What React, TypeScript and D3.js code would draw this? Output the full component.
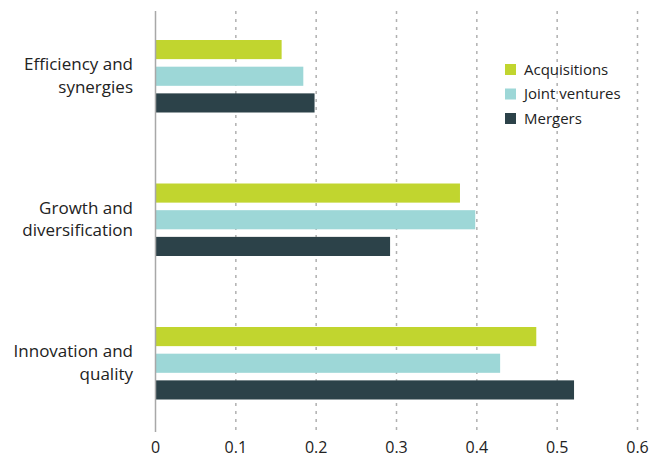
import React from "react";
import * as d3 from "d3";

const categories = ["Efficiency and synergies", "Growth and diversification", "Innovation and quality"];
const categoryLines = [["Efficiency and", "synergies"], ["Growth and", "diversification"], ["Innovation and", "quality"]];
const seriesNames = ["Acquisitions", "Joint ventures", "Mergers"];
const acquisitions = [0.157, 0.379, 0.474];
const jointVentures = [0.184, 0.398, 0.429];
const mergers = [0.198, 0.292, 0.521];
const xTicks = [0, 0.1, 0.2, 0.3, 0.4, 0.5, 0.6];
const colors = ["#c1d52f", "#9dd7d7", "#2c4249"];

const W = 668, H = 457;
const FONT = "'Open Sans', sans-serif";

export default function App() {
  const series = [acquisitions, jointVentures, mergers];
  const x = d3.scaleLinear().domain([0, 0.6]).range([155.5, 637.5]);
  const y = d3.scaleBand().domain(categories).range([4.75, 435.25]).paddingInner(0).paddingOuter(0);
  const inner = d3.scaleBand().domain(seriesNames).range([-36.5, 36]).paddingInner(0.283).paddingOuter(0);
  const top = 11, bottom = 431;
  return (
    <svg width={W} height={H} style={{ position: "absolute", left: 0, top: 0, fontFamily: FONT }}>
      {xTicks.slice(1).map((t) => (
        <line key={t} x1={x(t)} x2={x(t)} y1={top} y2={bottom} stroke="#b0b0b0" strokeWidth={1.5} strokeDasharray="3 5" />
      ))}
      {categories.map((c, ci) => {
        const cy = (y(c) as number) + y.bandwidth() / 2;
        return (
          <g key={c}>
            {series.map((s, si) => (
              <rect key={si} x={x(0)} y={cy + (inner(seriesNames[si]) as number)} width={x(s[ci]) - x(0)} height={inner.bandwidth()} fill={colors[si]} />
            ))}
            {categoryLines[ci].map((ln, li) => (
              <text key={li} x={133} y={cy - 6.5 + li * 22.5} textAnchor="end" fontSize={17} fill="#222">{ln}</text>
            ))}
          </g>
        );
      })}
      <line x1={x(0)} x2={x(0)} y1={top} y2={bottom + 1} stroke="#a8a8a8" strokeWidth={1.5} />
      {xTicks.map((t) => (
        <text key={t} x={x(t)} y={453} textAnchor="middle" fontSize={16} fill="#222">{d3.format("")(t)}</text>
      ))}
      {seriesNames.map((n, i) => (
        <g key={n} transform={`translate(505, ${64 + i * 24.5})`}>
          <rect x={0} y={0} width={11} height={11} fill={colors[i]} />
          <text x={19} y={10.5} fontSize={15} fill="#222">{n}</text>
        </g>
      ))}
    </svg>
  );
}
